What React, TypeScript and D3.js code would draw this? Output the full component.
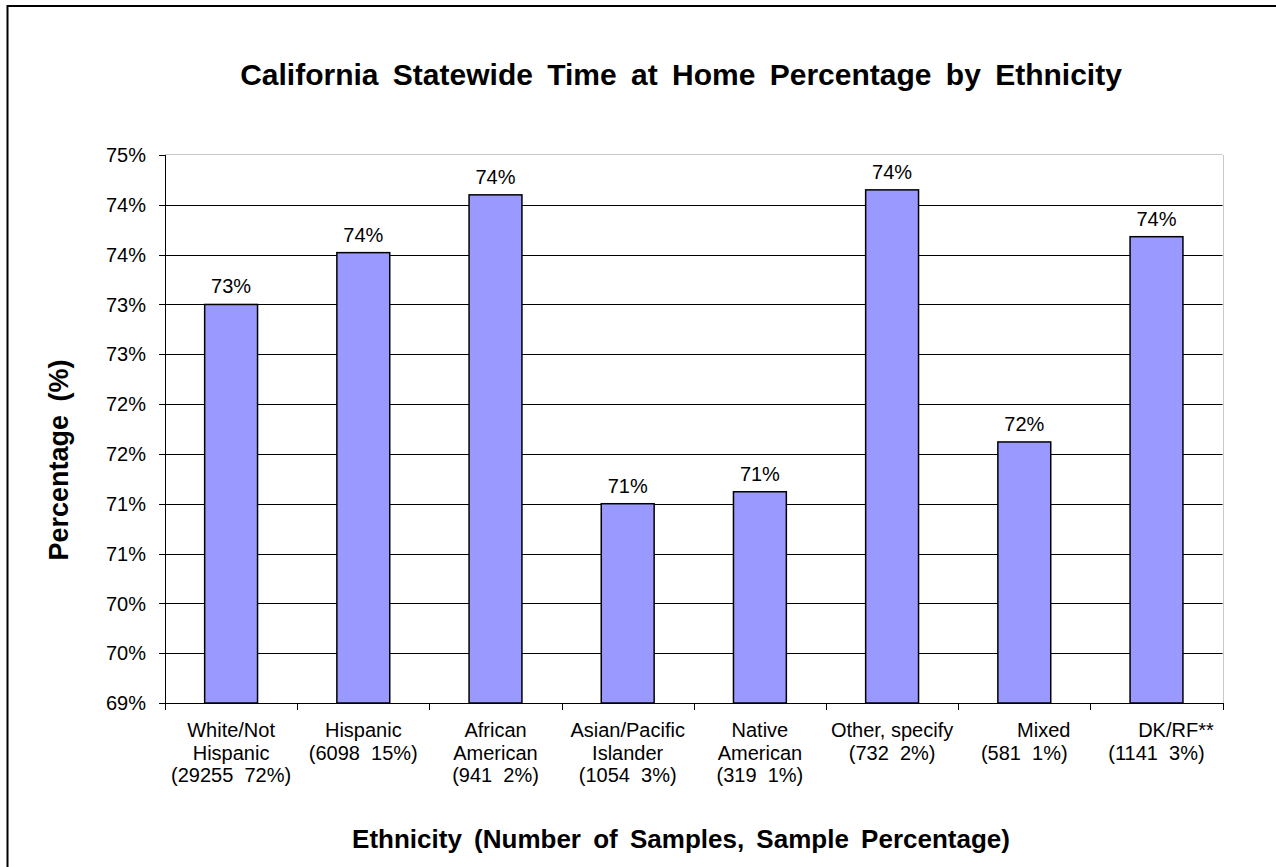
import React from "react";
import * as d3 from "d3";

// Chart data
const categoryNameLines: string[][] = [
  ["White/Not", "Hispanic"],
  ["Hispanic"],
  ["African", "American"],
  ["Asian/Pacific", "Islander"],
  ["Native", "American"],
  ["Other, specify"],
  ["       Mixed"],
  ["       DK/RF**"],
];
const sampleCounts: number[] = [29255, 6098, 941, 1054, 319, 732, 581, 1141];
const samplePercents: number[] = [72, 15, 2, 3, 1, 2, 1, 3];
const timeAtHome: number[] = [73.0, 73.52, 74.1, 71.0, 71.12, 74.15, 71.62, 73.68];
const yTickValues: number[] = [69, 69.5, 70, 70.5, 71, 71.5, 72, 72.5, 73, 73.5, 74, 74.5];

const W = 1276;
const H = 867;
const FONT = "'Liberation Sans', Arial, Helvetica, sans-serif";

const plot = { left: 165, right: 1222.6, top: 155, bottom: 703 };

export default function App() {
  const ids = categoryNameLines.map((_, i) => String(i));
  const x = d3
    .scaleBand<string>()
    .domain(ids)
    .range([plot.left, plot.right])
    .paddingInner(0.6)
    .paddingOuter(0.3);
  const y = d3
    .scaleLinear()
    .domain([69, 74.5])
    .range([plot.bottom, plot.top]);

  const step = x.step();
  const crisp = (v: number) => Math.round(v) + 0.5;
  const pct = (v: number) => `${Math.round(v)}%`;

  const labelLines = categoryNameLines.map((lines, i) => [
    ...lines,
    `(${sampleCounts[i]}  ${samplePercents[i]}%)`,
  ]);

  // category boundary ticks on the x axis
  const boundaries = d3.range(ids.length + 1).map((i) => plot.left + i * step);

  return (
    <div style={{ position: "absolute", left: 0, top: 0, width: W, height: H, overflow: "hidden" }}>
      <svg width={W} height={H} style={{ display: "block", background: "#fff", fontFamily: FONT }}>
        {/* chart frame */}
        <rect x={7.5} y={6} width={1400} height={1000} fill="#fff" stroke="#000" strokeWidth={2} />

        {/* title */}
        <text
          x={681}
          y={85}
          textAnchor="middle"
          fontSize={30}
          fontWeight="bold"
          wordSpacing={6}
          fill="#000"
        >
          California Statewide Time at Home Percentage by Ethnicity
        </text>

        {/* plot area border */}
        <line x1={plot.left} x2={plot.right} y1={crisp(plot.top) - 1} y2={crisp(plot.top) - 1} stroke="#c8c8c8" />
        <line x1={crisp(plot.right)} x2={crisp(plot.right)} y1={plot.top} y2={plot.bottom} stroke="#c8c8c8" />

        {/* gridlines */}
        {yTickValues
          .filter((v) => v > 69 && v < 74.5)
          .map((v) => (
            <line
              key={`g${v}`}
              x1={plot.left}
              x2={plot.right}
              y1={crisp(y(v))}
              y2={crisp(y(v))}
              stroke="#000"
              strokeWidth={1}
            />
          ))}

        {/* bars */}
        {timeAtHome.map((v, i) => (
          <rect
            key={`b${i}`}
            x={x(String(i))}
            y={y(v)}
            width={x.bandwidth()}
            height={plot.bottom - y(v)}
            fill="#9999FF"
            stroke="#000"
            strokeWidth={1.5}
          />
        ))}

        {/* value labels */}
        {timeAtHome.map((v, i) => (
          <text
            key={`v${i}`}
            x={(x(String(i)) as number) + x.bandwidth() / 2}
            y={y(v) - 11}
            textAnchor="middle"
            fontSize={20}
            fill="#000"
          >
            {pct(v)}
          </text>
        ))}

        {/* y axis */}
        <line x1={crisp(plot.left)} x2={crisp(plot.left)} y1={plot.top} y2={plot.bottom} stroke="#000" />
        {yTickValues.map((v) => (
          <g key={`yt${v}`}>
            <line x1={plot.left - 6} x2={plot.left} y1={crisp(y(v))} y2={crisp(y(v))} stroke="#000" />
            <text x={146} y={y(v)} dy="0.36em" textAnchor="end" fontSize={20} fill="#000">
              {pct(v)}
            </text>
          </g>
        ))}

        {/* x axis */}
        <line x1={plot.left} x2={plot.right + 1} y1={crisp(plot.bottom)} y2={crisp(plot.bottom)} stroke="#000" />
        {boundaries.map((bx, i) => (
          <line
            key={`xt${i}`}
            x1={crisp(bx)}
            x2={crisp(bx)}
            y1={plot.bottom}
            y2={plot.bottom + 7}
            stroke="#000"
          />
        ))}

        {/* category labels */}
        {labelLines.map((lines, i) => (
          <text
            key={`c${i}`}
            x={(x(String(i)) as number) + x.bandwidth() / 2}
            y={737}
            textAnchor="middle"
            fontSize={20}
            fill="#000"
            style={{ whiteSpace: "pre" }}
          >
            {lines.map((ln, j) => (
              <tspan key={j} x={(x(String(i)) as number) + x.bandwidth() / 2} y={737 + j * 22.5}>
                {ln}
              </tspan>
            ))}
          </text>
        ))}

        {/* axis titles */}
        <text
          x={681}
          y={848}
          textAnchor="middle"
          fontSize={26}
          fontWeight="bold"
          wordSpacing={5}
          fill="#000"
        >
          Ethnicity (Number of Samples, Sample Percentage)
        </text>
        <text
          transform="translate(68,460) rotate(-90)"
          textAnchor="middle"
          fontSize={27}
          fontWeight="bold"
          wordSpacing={6}
          fill="#000"
        >
          Percentage (%)
        </text>
      </svg>
    </div>
  );
}
